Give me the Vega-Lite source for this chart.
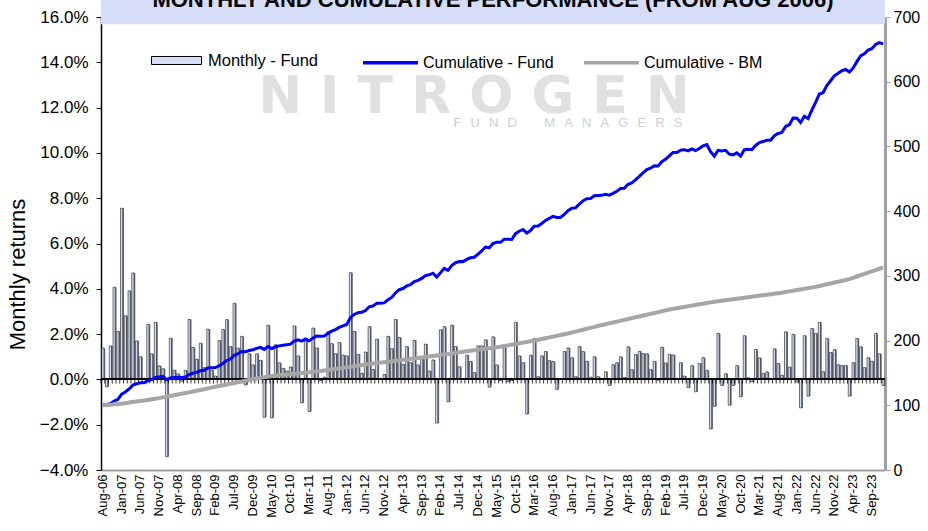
{
"$schema":"https://vega.github.io/schema/vega-lite/v6.json",
"width":784,"height":453,
"autosize":{"type":"none"},
"padding":{"left":101,"top":17,"right":43,"bottom":61},
"background":"white",
"config":{"font":"Liberation Sans","view":{"stroke":null},"axis":{"grid":false}},
"data":{"values":[
{"m":"Aug-06","r":1.38,"f":101.4,"b":100},{"m":"Sep-06","r":-0.33,"f":101.1,"b":100.5},{"m":"Oct-06","r":1.48,"f":102.5,"b":101},{"m":"Nov-06","r":4.07,"f":106.7,"b":101.5},{"m":"Dec-06","r":2.12,"f":109.0,"b":102},
{"m":"Jan-07","r":7.56,"f":117.2,"b":102.5},{"m":"Feb-07","r":2.81,"f":120.5,"b":103.3},{"m":"Mar-07","r":3.91,"f":125.2,"b":104.2},{"m":"Apr-07","r":4.70,"f":131.1,"b":105.0},{"m":"May-07","r":1.70,"f":133.3,"b":105.8},{"m":"Jun-07","r":1.00,"f":134.7,"b":106.7},{"m":"Jul-07","r":0.05,"f":134.7,"b":107.5},{"m":"Aug-07","r":2.43,"f":138.0,"b":108.3},{"m":"Sep-07","r":1.13,"f":139.6,"b":109.2},{"m":"Oct-07","r":2.52,"f":143.1,"b":110},{"m":"Nov-07","r":0.60,"f":143.9,"b":111.1},{"m":"Dec-07","r":0.47,"f":144.6,"b":112.2},
{"m":"Jan-08","r":-3.41,"f":139.7,"b":113.3},{"m":"Feb-08","r":1.82,"f":142.2,"b":114.4},{"m":"Mar-08","r":0.41,"f":142.8,"b":115.6},{"m":"Apr-08","r":0.25,"f":143.2,"b":116.7},{"m":"May-08","r":-0.08,"f":143.1,"b":117.8},{"m":"Jun-08","r":0.40,"f":143.6,"b":118.9},{"m":"Jul-08","r":2.65,"f":147.4,"b":120},{"m":"Aug-08","r":1.41,"f":149.5,"b":121.2},{"m":"Sep-08","r":0.89,"f":150.9,"b":122.4},{"m":"Oct-08","r":1.60,"f":153.3,"b":123.7},{"m":"Nov-08","r":0.52,"f":154.1,"b":124.9},{"m":"Dec-08","r":2.22,"f":157.5,"b":126.1},
{"m":"Jan-09","r":0.40,"f":158.1,"b":127.3},{"m":"Feb-09","r":0.15,"f":158.4,"b":128.6},{"m":"Mar-09","r":1.72,"f":161.1,"b":129.8},{"m":"Apr-09","r":2.20,"f":164.6,"b":131},{"m":"May-09","r":2.64,"f":169.0,"b":132.2},{"m":"Jun-09","r":1.45,"f":171.4,"b":133.3},{"m":"Jul-09","r":3.36,"f":177.2,"b":134.5},{"m":"Aug-09","r":1.38,"f":179.6,"b":135.7},{"m":"Sep-09","r":1.90,"f":183.0,"b":136.8},{"m":"Oct-09","r":-0.25,"f":182.6,"b":138},{"m":"Nov-09","r":1.13,"f":184.6,"b":139.2},{"m":"Dec-09","r":0.64,"f":185.8,"b":140.3},
{"m":"Jan-10","r":1.13,"f":187.9,"b":141.5},{"m":"Feb-10","r":0.84,"f":189.5,"b":142.4},{"m":"Mar-10","r":-1.67,"f":186.3,"b":143.3},{"m":"Apr-10","r":2.39,"f":190.8,"b":144.2},{"m":"May-10","r":-1.70,"f":187.5,"b":145.1},{"m":"Jun-10","r":1.53,"f":190.4,"b":146},{"m":"Jul-10","r":0.73,"f":191.8,"b":146.6},{"m":"Aug-10","r":0.49,"f":192.7,"b":147.1},{"m":"Sep-10","r":0.37,"f":193.4,"b":147.7},{"m":"Oct-10","r":0.55,"f":194.5,"b":148.2},{"m":"Nov-10","r":2.36,"f":199.1,"b":148.8},{"m":"Dec-10","r":1.04,"f":201.2,"b":149.3},
{"m":"Jan-11","r":-1.04,"f":199.1,"b":149.9},{"m":"Feb-11","r":1.70,"f":202.5,"b":150.4},{"m":"Mar-11","r":-1.42,"f":199.6,"b":151},{"m":"Apr-11","r":2.27,"f":204.1,"b":151.7},{"m":"May-11","r":1.39,"f":206.9,"b":152.4},{"m":"Jun-11","r":-0.05,"f":206.7,"b":153.1},{"m":"Jul-11","r":0.10,"f":206.9,"b":153.9},{"m":"Aug-11","r":2.10,"f":211.2,"b":154.6},{"m":"Sep-11","r":1.58,"f":214.5,"b":155.3},{"m":"Oct-11","r":1.14,"f":216.9,"b":156},{"m":"Nov-11","r":1.63,"f":220.3,"b":156.9},{"m":"Dec-11","r":1.07,"f":222.7,"b":157.8},
{"m":"Jan-12","r":1.04,"f":224.9,"b":158.6},{"m":"Feb-12","r":4.71,"f":235.5,"b":159.5},{"m":"Mar-12","r":2.12,"f":240.4,"b":160.4},{"m":"Apr-12","r":1.11,"f":243.0,"b":161.3},{"m":"May-12","r":0.27,"f":243.6,"b":162.1},{"m":"Jun-12","r":1.21,"f":246.5,"b":163},{"m":"Jul-12","r":2.33,"f":252.2,"b":163.7},{"m":"Aug-12","r":0.44,"f":253.3,"b":164.4},{"m":"Sep-12","r":1.78,"f":257.7,"b":165.2},{"m":"Oct-12","r":0.03,"f":257.7,"b":165.9},{"m":"Nov-12","r":0.22,"f":258.2,"b":166.6},{"m":"Dec-12","r":1.90,"f":263.1,"b":167.3},
{"m":"Jan-13","r":1.36,"f":266.6,"b":168.1},{"m":"Feb-13","r":2.65,"f":273.6,"b":168.8},{"m":"Mar-13","r":1.85,"f":278.6,"b":169.5},{"m":"Apr-13","r":0.67,"f":280.4,"b":170.2},{"m":"May-13","r":1.45,"f":284.4,"b":170.9},{"m":"Jun-13","r":0.74,"f":286.4,"b":171.7},{"m":"Jul-13","r":1.72,"f":291.3,"b":172.4},{"m":"Aug-13","r":0.64,"f":293.1,"b":173.1},{"m":"Sep-13","r":1.00,"f":296.0,"b":173.8},{"m":"Oct-13","r":1.56,"f":300.5,"b":174.6},{"m":"Nov-13","r":0.37,"f":301.6,"b":175.3},{"m":"Dec-13","r":0.86,"f":304.1,"b":176},
{"m":"Jan-14","r":-1.93,"f":298.2,"b":176.8},{"m":"Feb-14","r":2.19,"f":304.6,"b":177.7},{"m":"Mar-14","r":2.33,"f":311.6,"b":178.5},{"m":"Apr-14","r":-0.99,"f":308.5,"b":179.3},{"m":"May-14","r":2.40,"f":315.8,"b":180.2},{"m":"Jun-14","r":1.45,"f":320.3,"b":181},{"m":"Jul-14","r":0.56,"f":322.1,"b":181.8},{"m":"Aug-14","r":0.02,"f":322.0,"b":182.7},{"m":"Sep-14","r":1.07,"f":325.4,"b":183.5},{"m":"Oct-14","r":0.79,"f":327.9,"b":184.3},{"m":"Nov-14","r":0.30,"f":328.8,"b":185.1},{"m":"Dec-14","r":1.48,"f":333.6,"b":185.8},
{"m":"Jan-15","r":1.48,"f":338.6,"b":186.6},{"m":"Feb-15","r":1.75,"f":344.5,"b":187.4},{"m":"Mar-15","r":-0.34,"f":343.3,"b":188.2},{"m":"Apr-15","r":1.88,"f":349.8,"b":188.9},{"m":"May-15","r":0.64,"f":352.0,"b":189.7},{"m":"Jun-15","r":-0.05,"f":351.8,"b":190.5},{"m":"Jul-15","r":1.40,"f":356.7,"b":191.6},{"m":"Aug-15","r":-0.10,"f":356.4,"b":192.6},{"m":"Sep-15","r":-0.05,"f":356.2,"b":193.7},{"m":"Oct-15","r":2.52,"f":365.2,"b":194.7},{"m":"Nov-15","r":1.04,"f":369.0,"b":195.8},{"m":"Dec-15","r":0.74,"f":371.7,"b":196.8},
{"m":"Jan-16","r":-1.53,"f":366.0,"b":197.9},{"m":"Feb-16","r":1.07,"f":370.0,"b":198.9},{"m":"Mar-16","r":1.81,"f":376.6,"b":200},{"m":"Apr-16","r":0.12,"f":377.1,"b":201.2},{"m":"May-16","r":1.04,"f":381.0,"b":202.4},{"m":"Jun-16","r":1.23,"f":385.7,"b":203.7},{"m":"Jul-16","r":0.83,"f":388.9,"b":204.9},{"m":"Aug-16","r":0.79,"f":392.0,"b":206.1},{"m":"Sep-16","r":-0.44,"f":390.3,"b":207.3},{"m":"Oct-16","r":0.02,"f":390.3,"b":208.6},{"m":"Nov-16","r":1.23,"f":395.1,"b":209.8},{"m":"Dec-16","r":1.39,"f":400.6,"b":211},
{"m":"Jan-17","r":0.96,"f":404.5,"b":212.4},{"m":"Feb-17","r":0.12,"f":405.0,"b":213.9},{"m":"Mar-17","r":1.45,"f":410.8,"b":215.3},{"m":"Apr-17","r":1.23,"f":415.9,"b":216.8},{"m":"May-17","r":0.80,"f":419.2,"b":218.2},{"m":"Jun-17","r":0.10,"f":419.6,"b":219.7},{"m":"Jul-17","r":1.00,"f":423.8,"b":221.1},{"m":"Aug-17","r":0.12,"f":424.3,"b":222.6},{"m":"Sep-17","r":0.02,"f":424.4,"b":224},{"m":"Oct-17","r":0.34,"f":425.9,"b":225.3},{"m":"Nov-17","r":-0.27,"f":424.7,"b":226.7},{"m":"Dec-17","r":0.65,"f":427.5,"b":228},
{"m":"Jan-18","r":0.74,"f":430.6,"b":229.3},{"m":"Feb-18","r":1.00,"f":434.9,"b":230.7},{"m":"Mar-18","r":0.09,"f":435.3,"b":232},{"m":"Apr-18","r":1.44,"f":441.6,"b":233.3},{"m":"May-18","r":0.43,"f":443.5,"b":234.7},{"m":"Jun-18","r":1.10,"f":448.4,"b":236},{"m":"Jul-18","r":1.24,"f":453.9,"b":237.3},{"m":"Aug-18","r":1.14,"f":459.1,"b":238.7},{"m":"Sep-18","r":1.13,"f":464.3,"b":240},{"m":"Oct-18","r":0.43,"f":466.3,"b":241.3},{"m":"Nov-18","r":0.80,"f":470.0,"b":242.7},{"m":"Dec-18","r":-0.04,"f":469.9,"b":244},
{"m":"Jan-19","r":1.42,"f":476.5,"b":245.3},{"m":"Feb-19","r":0.73,"f":480.0,"b":246.7},{"m":"Mar-19","r":1.11,"f":485.3,"b":248},{"m":"Apr-19","r":1.08,"f":490.6,"b":249},{"m":"May-19","r":0.02,"f":490.7,"b":250},{"m":"Jun-19","r":0.74,"f":494.3,"b":251},{"m":"Jul-19","r":0.15,"f":495.0,"b":252},{"m":"Aug-19","r":-0.37,"f":493.2,"b":253},{"m":"Sep-19","r":0.61,"f":496.2,"b":254},{"m":"Oct-19","r":-0.55,"f":493.5,"b":255},{"m":"Nov-19","r":0.70,"f":496.9,"b":256},{"m":"Dec-19","r":0.96,"f":501.0,"b":257},
{"m":"Jan-20","r":0.40,"f":503.0,"b":258},{"m":"Feb-20","r":-2.19,"f":492.0,"b":259},{"m":"Mar-20","r":-1.19,"f":485.0,"b":260},{"m":"Apr-20","r":2.03,"f":494.0,"b":260.8},{"m":"May-20","r":-0.27,"f":493.0,"b":261.6},{"m":"Jun-20","r":0.25,"f":494.0,"b":262.3},{"m":"Jul-20","r":-1.14,"f":488.0,"b":263.1},{"m":"Aug-20","r":-0.27,"f":487.0,"b":263.9},{"m":"Sep-20","r":0.61,"f":490.0,"b":264.7},{"m":"Oct-20","r":-0.77,"f":485.0,"b":265.4},{"m":"Nov-20","r":1.93,"f":495.0,"b":266.2},{"m":"Dec-20","r":0.07,"f":495.5,"b":267},
{"m":"Jan-21","r":-0.10,"f":495.0,"b":267.8},{"m":"Feb-21","r":1.32,"f":501.5,"b":268.6},{"m":"Mar-21","r":0.95,"f":506.0,"b":269.3},{"m":"Apr-21","r":0.27,"f":507.5,"b":270.1},{"m":"May-21","r":0.33,"f":509.5,"b":270.9},{"m":"Jun-21","r":0.02,"f":509.5,"b":271.7},{"m":"Jul-21","r":1.35,"f":516.5,"b":272.4},{"m":"Aug-21","r":0.70,"f":520.0,"b":273.2},{"m":"Sep-21","r":0.18,"f":521.5,"b":274},{"m":"Oct-21","r":2.10,"f":531.0,"b":275},{"m":"Nov-21","r":0.55,"f":533.5,"b":276},{"m":"Dec-21","r":1.99,"f":544.0,"b":277},
{"m":"Jan-22","r":-0.12,"f":543.5,"b":278},{"m":"Feb-22","r":-1.26,"f":537.0,"b":279},{"m":"Mar-22","r":1.93,"f":546.5,"b":280},{"m":"Apr-22","r":-0.74,"f":543.0,"b":281},{"m":"May-22","r":2.25,"f":556.0,"b":282},{"m":"Jun-22","r":2.03,"f":568.0,"b":283},{"m":"Jul-22","r":2.52,"f":581.0,"b":284.3},{"m":"Aug-22","r":0.34,"f":583.0,"b":285.7},{"m":"Sep-22","r":1.81,"f":594.0,"b":287},{"m":"Oct-22","r":1.19,"f":601.5,"b":288.3},{"m":"Nov-22","r":1.32,"f":609.0,"b":289.7},{"m":"Dec-22","r":0.65,"f":613.0,"b":291},
{"m":"Jan-23","r":0.62,"f":617.0,"b":292.3},{"m":"Feb-23","r":0.61,"f":619.0,"b":293.7},{"m":"Mar-23","r":-0.74,"f":615.0,"b":295},{"m":"Apr-23","r":0.74,"f":621.0,"b":297},{"m":"May-23","r":1.81,"f":631.0,"b":299},{"m":"Jun-23","r":1.44,"f":640.0,"b":301},{"m":"Jul-23","r":0.52,"f":643.0,"b":303},{"m":"Aug-23","r":0.96,"f":649.0,"b":305},{"m":"Sep-23","r":0.80,"f":651.0,"b":307},{"m":"Oct-23","r":2.03,"f":657.5,"b":309},{"m":"Nov-23","r":1.13,"f":660.5,"b":311},{"m":"Dec-23","r":-0.27,"f":658.5,"b":313}
]},
"layer":[
{"layer":[
 {"mark":{"type":"bar","fill":"#6e707a","size":2.2,"xOffset":1.3},
  "encoding":{
   "x":{"field":"m","type":"ordinal","sort":null,"scale":{"paddingInner":0,"paddingOuter":0},
    "axis":{"title":null,"values":["Aug-06","Jan-07","Jun-07","Nov-07","Apr-08","Sep-08","Feb-09","Jul-09","Dec-09","May-10","Oct-10","Mar-11","Aug-11","Jan-12","Jun-12","Nov-12","Apr-13","Sep-13","Feb-14","Jul-14","Dec-14","May-15","Oct-15","Mar-16","Aug-16","Jan-17","Jun-17","Nov-17","Apr-18","Sep-18","Feb-19","Jul-19","Dec-19","May-20","Oct-20","Mar-21","Aug-21","Jan-22","Jun-22","Nov-22","Apr-23","Sep-23"],
     "labelAngle":270,"labelAlign":"right","labelBaseline":"middle","labelFontSize":13,"labelColor":"#000","ticks":false,"domainColor":"#a0a0a0","domainWidth":2,"labelPadding":4}},
   "y":{"field":"r","type":"quantitative","scale":{"domain":[-4,16],"nice":false,"zero":false},
    "axis":{"title":"Monthly returns","values":[-4,-2,0,2,4,6,8,10,12,14,16],"labelExpr":"format(datum.value, '.1f') + '%'","domainColor":"#000","domainWidth":1.5,"tickColor":"#000","tickSize":5,"labelFontSize":17,"labelColor":"#000","labelPadding":8,"titleFontSize":22,"titleFontWeight":"normal","titleColor":"#000","titleX":-84,"titleY":257,"titleAngle":270,"titleAlign":"center","titleBaseline":"middle"}}
  }},
 {"mark":{"type":"bar","size":2.2,"stroke":"#1a1a1a","strokeWidth":0.6},
  "encoding":{
   "x":{"field":"m","type":"ordinal","sort":null},
   "y":{"field":"r","type":"quantitative"},
   "fill":{"datum":"Monthly - Fund","scale":{"range":["#d6ddf8"]},
    "legend":{"orient":"none","legendX":50,"legendY":18,"direction":"horizontal","title":null,"symbolType":"M-1,-0.16H1V0.16H-1Z","symbolSize":2500,"symbolStrokeColor":"#000","symbolStrokeWidth":1,"labelFontSize":16.5,"labelColor":"#000","labelOffset":6,"padding":0}}
  }},
 {"mark":{"type":"rule","color":"#000","strokeWidth":1},"encoding":{"y":{"datum":0}}},
 {"mark":{"type":"rule","color":"#000","strokeWidth":0.8},
  "encoding":{"x":{"field":"m","type":"ordinal","sort":null,"bandPosition":0},"y":{"datum":0},"y2":{"datum":-0.18}}},
 {"data":{"values":[{"t":"band"}]},"mark":{"type":"rect","color":"#d6ddf8"},
  "encoding":{"y":{"datum":15.68},"y2":{"datum":16.76}}},
 {"data":{"values":[{"t":"MONTHLY AND CUMULATIVE PERFORMANCE (FROM AUG 2006)"}]},"mark":{"type":"text","fontSize":22,"fontWeight":"bold","color":"#000","baseline":"alphabetic","align":"center"},
  "encoding":{"text":{"field":"t"},"y":{"datum":16.44}}},
 {"data":{"values":[{"t":"N I T R O G E N"}]},"mark":{"type":"text","font":"DejaVu Sans","fontWeight":"bold","fontSize":52,"color":"#e0e0e0","baseline":"middle","align":"center","dx":-19},
  "encoding":{"text":{"field":"t"},"y":{"datum":12.45}}},
 {"data":{"values":[{"t":"F\u2002\u2009U\u2002\u2009N\u2002\u2009D\u2002\u2009\u2002\u2009\u2002\u2009M\u2002\u2009A\u2002\u2009N\u2002\u2009A\u2002\u2009G\u2002\u2009E\u2002\u2009R\u2002\u2009S"}]},"mark":{"type":"text","fontSize":13,"color":"#d0d0d0","baseline":"middle","align":"center","dx":75},
  "encoding":{"text":{"field":"t"},"y":{"datum":11.3}}}
]},
{"layer":[
 {"mark":{"type":"line","strokeWidth":3},
  "encoding":{
   "x":{"field":"m","type":"ordinal","sort":null},
   "y":{"field":"f","type":"quantitative","scale":{"domain":[0,700],"nice":false},
    "axis":{"orient":"right","title":null,"values":[0,100,200,300,400,500,600,700],"domainColor":"#a0a0a0","domainWidth":3,"tickColor":"#a0a0a0","tickSize":5,"labelFontSize":16,"labelColor":"#000","labelPadding":3}},
   "stroke":{"datum":"Cumulative - Fund","scale":{"domain":["Cumulative - Fund","Cumulative - BM"],"range":["#0000ff","#a6a6a6"]},
    "legend":{"orient":"none","legendX":260,"legendY":16,"direction":"horizontal","title":null,"symbolType":"stroke","symbolSize":3025,"symbolStrokeWidth":3.5,"labelFontSize":16,"labelColor":"#000","labelOffset":3,"columnPadding":23,"padding":0}}
  }},
 {"mark":{"type":"line","strokeWidth":4},
  "encoding":{
   "x":{"field":"m","type":"ordinal","sort":null},
   "y":{"field":"b","type":"quantitative"},
   "stroke":{"datum":"Cumulative - BM"}
  }}
]}
],
"resolve":{"scale":{"y":"independent"}}
}
